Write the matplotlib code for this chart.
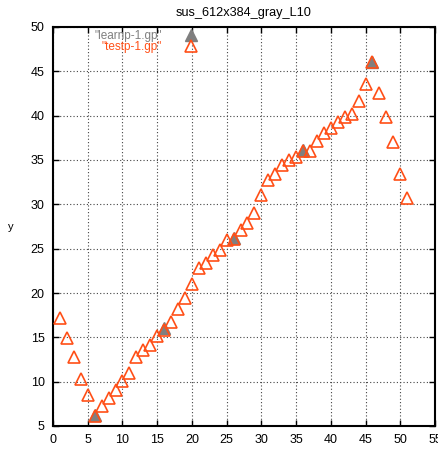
import matplotlib
matplotlib.use("Agg")
import matplotlib.pyplot as plt

plt.rcParams['font.family'] = ['Liberation Sans', 'DejaVu Sans']

title = "sus_612x384_gray_L10"
learn_label = '"learnp-1.gp"'
test_label = '"testp-1.gp"'

learn_x = [6, 16, 26, 36, 46]
learn_y = [6.2, 16.0, 26.2, 36.1, 46.1]

test_x = list(range(1, 52))
test_y = [17.2, 14.9, 12.8, 10.3, 8.5, 6.1, 7.3, 8.2, 9.1, 10.1,
          11.0, 12.8, 13.6, 14.1, 15.2, 15.8, 16.7, 18.2, 19.4, 21.0,
          22.8, 23.4, 24.3, 24.9, 26.0, 26.1, 27.1, 27.9, 29.0, 31.1,
          32.7, 33.4, 34.4, 35.0, 35.3, 36.0, 36.0, 37.1, 38.0, 38.6,
          39.3, 39.8, 40.2, 41.7, 43.6, 46.1, 42.6, 39.8, 37.0, 33.4,
          30.7]

xticks = list(range(0, 56, 5))
yticks = list(range(5, 51, 5))

fig = plt.figure(figsize=(4.38, 4.5), dpi=100)
ax = fig.add_axes([53/438, 24/450, 382/438, 399/450])

gray = '#7f7f7f'
orange = '#ff4f17'

ax.plot(learn_x, learn_y, linestyle='none', marker='^', markersize=8.3,
        color=gray, markeredgecolor=gray, label=learn_label, zorder=3)
ax.plot(test_x, test_y, linestyle='none', marker='^', markersize=8.3,
        markerfacecolor='none', markeredgecolor=orange, markeredgewidth=1.2,
        color=orange, label=test_label, zorder=4)

ax.set_xlim(0, 55)
ax.set_ylim(5, 50)
ax.set_xticks(xticks)
ax.set_yticks(yticks)
ax.tick_params(direction='in', top=True, right=True, length=4, width=1,
               labelsize=9, pad=6)
for s in ax.spines.values():
    s.set_linewidth(1.5)
ax.grid(True, color='#444444', linestyle=(0, (1, 2)), linewidth=0.8)
ax.set_axisbelow(True)

ax.set_xlabel('x', fontsize=8, labelpad=1)
ax.set_ylabel('y', fontsize=8, rotation=0, labelpad=14, va='center')
ax.set_title(title, fontsize=9.2, pad=8)

leg = ax.legend(loc='upper right', bbox_to_anchor=(0.41, 1.012), frameon=False,
                markerfirst=False, numpoints=1, fontsize=8.5, labelspacing=-0.05,
                handlelength=1.8, handletextpad=1.6, borderpad=0.15,
                labelcolor='linecolor')

fig.savefig('out.png', dpi=100)
